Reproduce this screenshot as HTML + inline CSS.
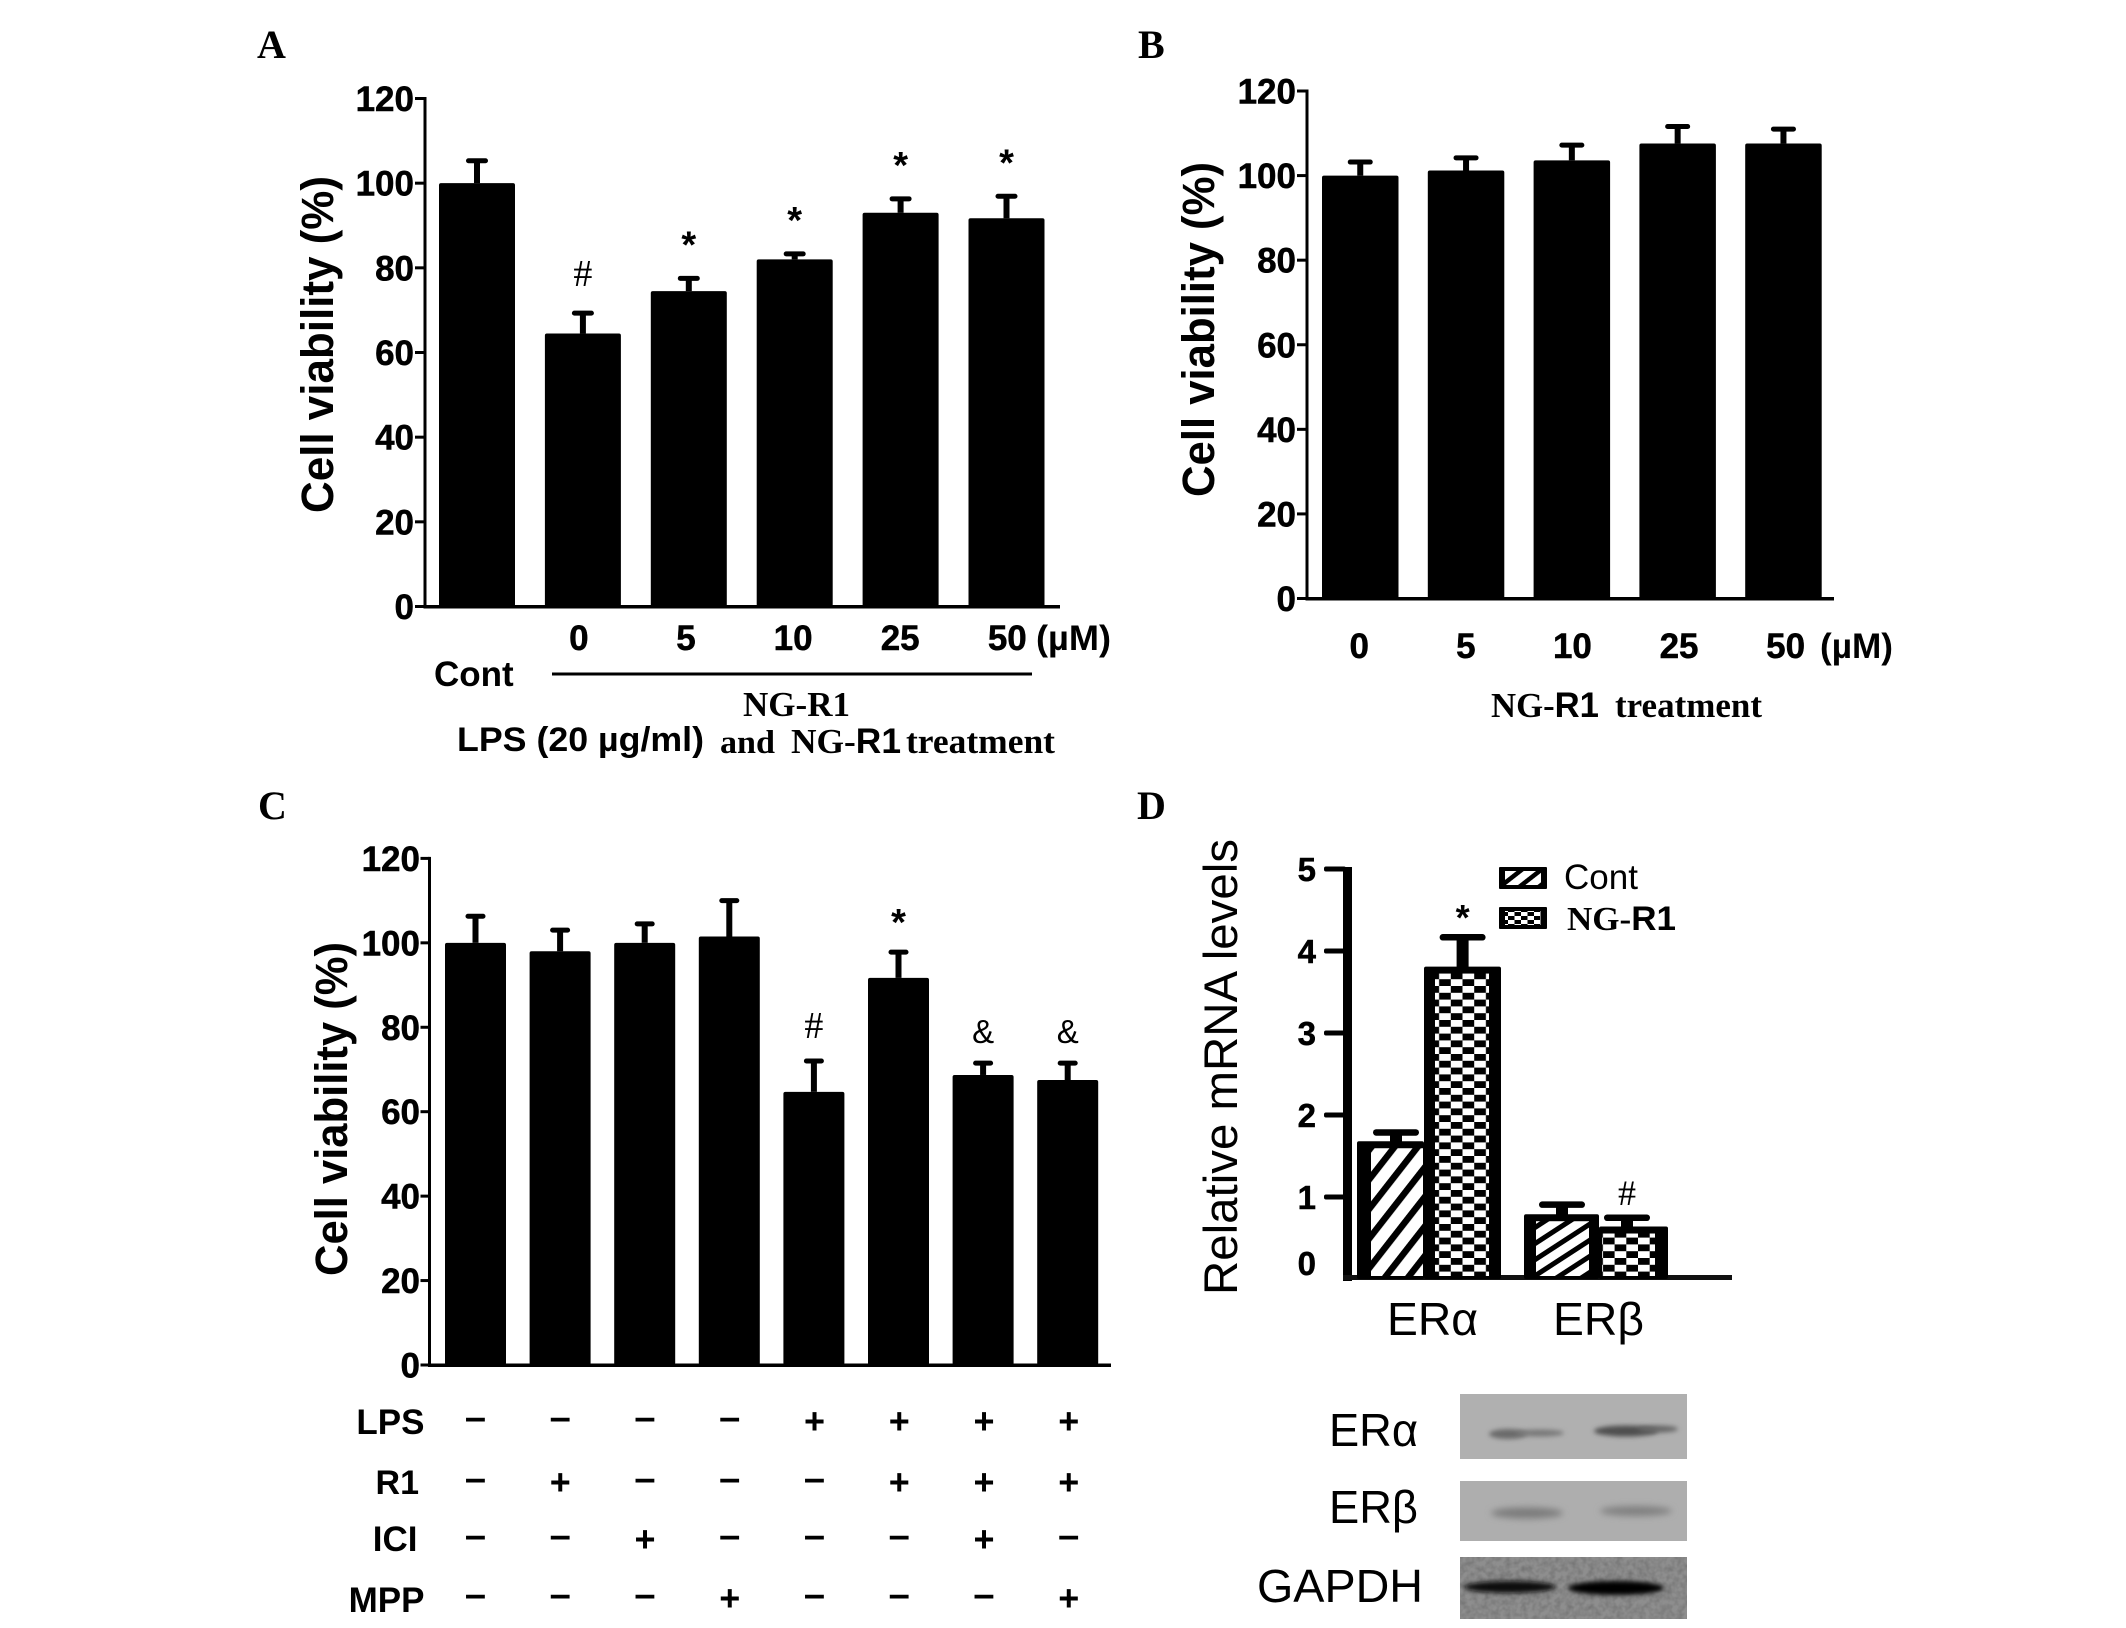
<!DOCTYPE html>
<html lang="en">
<head>
<meta charset="utf-8">
<title>Cell viability and ER expression figure</title>
<style>
html,body{margin:0;padding:0;background:#fff;}
svg{display:block;}
text{fill:#000;}
.sans{font-family:"Liberation Sans",sans-serif;}
.b{font-weight:bold;}
.serif{font-family:"Liberation Serif",serif;font-weight:bold;}
</style>
</head>
<body>
<svg id="fig" xmlns="http://www.w3.org/2000/svg" width="2126" height="1628" viewBox="0 0 2126 1628">
<defs>
<pattern id="hatchA" patternUnits="userSpaceOnUse" width="18.2" height="18.2" patternTransform="rotate(-52)">
<rect width="18.2" height="18.2" fill="#fff"/><rect width="18.2" height="6.5" fill="#000"/>
</pattern>
<pattern id="hatchB" patternUnits="userSpaceOnUse" width="13.5" height="13.5" patternTransform="rotate(-33)">
<rect width="13.5" height="13.5" fill="#fff"/><rect width="13.5" height="5" fill="#000"/>
</pattern>
<pattern id="hatchL" patternUnits="userSpaceOnUse" width="12" height="12" patternTransform="rotate(-38)">
<rect width="12" height="12" fill="#fff"/><rect width="12" height="4.5" fill="#000"/>
</pattern>
<pattern id="check" patternUnits="userSpaceOnUse" width="23.4" height="13.6">
<rect width="23.4" height="13.6" fill="#000"/>
<rect x="0" y="0" width="11.7" height="6.8" fill="#fff"/>
<rect x="11.7" y="6.8" width="11.7" height="6.8" fill="#fff"/>
</pattern>
<pattern id="checkL" patternUnits="userSpaceOnUse" width="13" height="8">
<rect width="13" height="8" fill="#000"/>
<rect x="0" y="0" width="6.5" height="4" fill="#fff"/>
<rect x="6.5" y="4" width="6.5" height="4" fill="#fff"/>
</pattern>
<filter id="blur5" x="-20%" y="-100%" width="140%" height="300%"><feGaussianBlur stdDeviation="3.5"/></filter>
<filter id="blur2" x="-20%" y="-100%" width="140%" height="300%"><feGaussianBlur stdDeviation="2.4"/></filter>
<filter id="noise" x="0" y="0" width="100%" height="100%"><feTurbulence type="fractalNoise" baseFrequency="0.18" numOctaves="2" seed="4"/><feColorMatrix type="matrix" values="0 0 0 0 0  0 0 0 0 0  0 0 0 0 0  0.9 0 0 0 -0.3"/></filter>
</defs>

<!-- panel letters -->
<text class="serif" x="257" y="58" font-size="40">A</text>
<text class="serif" x="1138" y="58" font-size="40">B</text>
<text class="serif" x="258" y="819" font-size="40">C</text>
<text class="serif" x="1137" y="819" font-size="40">D</text>

<!-- axis titles -->
<text class="sans b" transform="translate(333,513) rotate(-90)" font-size="45" textLength="337" lengthAdjust="spacingAndGlyphs">Cell viability (%)</text>
<text class="sans b" transform="translate(1214,497) rotate(-90)" font-size="45" textLength="335" lengthAdjust="spacingAndGlyphs">Cell viability (%)</text>
<text class="sans b" transform="translate(347,1276) rotate(-90)" font-size="45" textLength="334" lengthAdjust="spacingAndGlyphs">Cell viability (%)</text>
<text class="sans" transform="translate(1237,1295) rotate(-90)" font-size="47" textLength="456" lengthAdjust="spacingAndGlyphs">Relative mRNA levels</text>

<!-- panel A annotations -->
<text class="sans b" x="1036" y="650" font-size="35" textLength="75" lengthAdjust="spacingAndGlyphs">(µM)</text>
<text class="sans b" x="434" y="686" font-size="35">Cont</text>
<rect x="552" y="672.5" width="480" height="3" fill="#000"/>
<text class="serif" x="743" y="716" font-size="35" textLength="107" lengthAdjust="spacingAndGlyphs">NG-R1</text>
<text class="sans b" x="457" y="751" font-size="34.5" textLength="247" lengthAdjust="spacingAndGlyphs">LPS (20 µg/ml)</text>
<text class="serif" x="720" y="753" font-size="33" textLength="55" lengthAdjust="spacingAndGlyphs">and</text>
<text class="serif" x="791" y="753" font-size="35" textLength="110" lengthAdjust="spacingAndGlyphs">NG-<tspan class="sans b">R1</tspan></text>
<text class="serif" x="906" y="753" font-size="34.6" textLength="149" lengthAdjust="spacingAndGlyphs">treatment</text>

<!-- panel B annotations -->
<text class="sans b" x="1820" y="658" font-size="35" textLength="73" lengthAdjust="spacingAndGlyphs">(µM)</text>
<text class="serif" x="1491" y="717" font-size="35" textLength="108" lengthAdjust="spacingAndGlyphs">NG-<tspan class="sans b">R1</tspan></text>
<text class="serif" x="1615" y="717" font-size="34.6" textLength="147" lengthAdjust="spacingAndGlyphs">treatment</text>

<!-- panel C row labels -->
<text class="sans b" x="424.5" y="1434" font-size="35" text-anchor="end">LPS</text>
<text class="sans b" x="419" y="1494" font-size="34" text-anchor="end">R1</text>
<text class="sans b" x="417.5" y="1551" font-size="35" text-anchor="end">ICI</text>
<text class="sans b" x="424.5" y="1612" font-size="35" text-anchor="end">MPP</text>

<!-- panel D legend -->
<g>
<rect x="1499" y="867" width="48" height="22" rx="1" fill="#000"/>
<rect x="1505" y="871" width="36" height="14" fill="url(#hatchL)"/>
<text class="sans" x="1564" y="889" font-size="35">Cont</text>
<rect x="1499" y="907" width="48" height="22" rx="1" fill="#000"/>
<rect x="1505" y="911" width="36" height="14" fill="url(#checkL)"/>
<text class="serif" x="1567" y="930" font-size="34" textLength="109" lengthAdjust="spacingAndGlyphs">NG-<tspan class="sans b">R1</tspan></text>
</g>

<!-- panel D western blots -->
<g>
<text class="sans" x="1329" y="1446" font-size="46" textLength="89" lengthAdjust="spacingAndGlyphs">ERα</text>
<text class="sans" x="1329" y="1523" font-size="46" textLength="89" lengthAdjust="spacingAndGlyphs">ERβ</text>
<text class="sans" x="1257" y="1602" font-size="46" textLength="166" lengthAdjust="spacingAndGlyphs">GAPDH</text>

<rect x="1460" y="1394" width="227" height="65" fill="#b0b0b0"/>
<ellipse cx="1508" cy="1434" rx="19" ry="5" fill="#6a6a6a" filter="url(#blur2)"/>
<ellipse cx="1540" cy="1433" rx="24" ry="3.5" fill="#787878" filter="url(#blur2)"/>
<ellipse cx="1626" cy="1431" rx="32" ry="5.5" fill="#505050" filter="url(#blur2)"/>
<ellipse cx="1658" cy="1429" rx="20" ry="3.5" fill="#666" filter="url(#blur2)"/>

<rect x="1460" y="1481" width="227" height="60" fill="#aeaeae"/>
<ellipse cx="1527" cy="1513" rx="36" ry="5.5" fill="#7c7c7c" filter="url(#blur5)"/>
<ellipse cx="1636" cy="1511" rx="36" ry="5" fill="#808080" filter="url(#blur5)"/>

<rect x="1460" y="1557" width="227" height="62" fill="#8e8e8e"/>
<rect x="1460" y="1557" width="227" height="62" filter="url(#noise)" opacity=".35"/>
<ellipse cx="1510" cy="1587" rx="46" ry="6" fill="#0c0c0c" filter="url(#blur2)"/>
<ellipse cx="1616" cy="1588" rx="48" ry="7" fill="#050505" filter="url(#blur2)"/>
</g>

<g id="plots"></g>
</svg>

<script>
// Panel A data
const aTickValues = [0, 20, 40, 60, 80, 100, 120];
const aCategories = ['', '0', '5', '10', '25', '50'];
const aValues = [100, 64.5, 74.5, 82, 93, 91.7];
const aErrors = [5.3, 4.8, 3, 1.3, 3.3, 5.2];
const aMarks = ['', '#', '*', '*', '*', '*'];

// Panel B data
const bTickValues = [0, 20, 40, 60, 80, 100, 120];
const bCategories = ['0', '5', '10', '25', '50'];
const bValues = [100, 101.2, 103.6, 107.6, 107.6];
const bErrors = [3.2, 3, 3.6, 4, 3.4];
const bMarks = ['', '', '', '', ''];

// Panel C data
const cTickValues = [0, 20, 40, 60, 80, 100, 120];
const cCategories = ['', '', '', '', '', '', '', ''];
const cValues = [100, 98, 100, 101.5, 64.7, 91.7, 68.7, 67.5];
const cErrors = [6.3, 5, 4.5, 8.5, 7.3, 6.1, 2.8, 4];
const cMarks = ['', '', '', '', '#', '*', '&', '&'];
const cRowLps = ['-', '-', '-', '-', '+', '+', '+', '+'];
const cRowR1 = ['-', '+', '-', '-', '-', '+', '+', '+'];
const cRowIci = ['-', '-', '+', '-', '-', '-', '+', '-'];
const cRowMpp = ['-', '-', '-', '+', '-', '-', '-', '+'];

// Panel D data
const dTickValues = [0, 1, 2, 3, 4, 5];
const dGroups = ['ERα', 'ERβ'];
const dContValues = [1.68, 0.79];
const dContErrors = [0.11, 0.12];
const dNgValues = [3.81, 0.64];
const dNgErrors = [0.36, 0.11];
const dContMarks = ['', ''];
const dNgMarks = ['*', '#'];

const NS = 'http://www.w3.org/2000/svg';
const plots = document.getElementById('plots');

function mk(tag, attrs, parent) {
  const el = document.createElementNS(NS, tag);
  for (const k in attrs) el.setAttribute(k, attrs[k]);
  (parent || plots).appendChild(el);
  return el;
}

function markText(ch, cx, cyCenter, prefix, i, scale) {
  if (!ch) return;
  const s = scale || 1;
  const font = ch === '#' ? 'Liberation Serif' : 'Liberation Sans';
  const size = (ch === '&' ? 33 : 38) * s;
  const off = (ch === '*' ? 18 : ch === '#' ? 12 : 15) * s;
  const t = mk('text', {x: cx, y: cyCenter + off, 'font-size': size, 'text-anchor': 'middle', 'font-family': font + ',sans-serif', 'font-weight': ch === '*' ? 'bold' : 'normal'});
  
  
  t.textContent = ch;
}

function drawBarPanel(p) {
  const y = v => p.y0 - (v / p.yMax) * (p.y0 - p.yTop);
  const x = i => p.xStart + i * p.step;

  const yAxis = mk('rect', {x: p.axisX - 1.5, y: p.yTop - 1.5, width: 3, height: p.y0 - p.yTop + 3, fill: '#000'});
  
  

  p.ticks.forEach(v => {
    const tk = mk('rect', {x: p.axisX - p.tickLen, y: y(v) - 1.5, width: p.tickLen, height: 3, fill: '#000'});
    
    
    const lb = mk('text', {x: p.labelRight, y: y(v) + 12.5, 'font-size': 35, 'text-anchor': 'end', 'font-family': 'Liberation Sans,sans-serif', 'font-weight': 'bold', stroke: '#000', 'stroke-width': 0.5});
    
    
    lb.textContent = v;
  });

  p.values.forEach((v, i) => {
    const cx = x(i) + p.barW / 2;
    const bar = mk('rect', {x: x(i), y: y(v), width: p.barW, height: p.y0 - y(v), rx: 2, fill: '#000'});
    
    
    const top = y(v + p.errors[i]);
    const stem = mk('rect', {x: cx - 3, y: top, width: 6, height: y(v) - top, fill: '#000'});
    
    
    const cap = mk('rect', {x: cx - p.capW / 2, y: top - 2.5, width: p.capW, height: 5, rx: 2.5, fill: '#000'});
    
    
    markText(p.marks[i], cx + p.markDx, top - p.markGap, p.id, i);
    if (p.categories[i]) {
      const lb = mk('text', {x: cx + p.labelDx + p.labelSlope * i, y: p.xLabelY, 'font-size': 35, 'text-anchor': 'middle', 'font-family': 'Liberation Sans,sans-serif', 'font-weight': 'bold', stroke: '#000', 'stroke-width': 0.5});
      
      
      lb.textContent = p.categories[i];
    }
  });

  const xAxis = mk('rect', {x: p.axisX - 1.5, y: p.y0 - 1.5, width: p.xEnd - p.axisX + 1.5, height: 3.5, fill: '#000'});
  
  
}

drawBarPanel({id: 'panel-a', ticks: aTickValues, categories: aCategories, values: aValues, errors: aErrors, marks: aMarks,
  yMax: 120, y0: 606.5, yTop: 98.5, axisX: 425, xEnd: 1060, tickLen: 10, labelRight: 414,
  xStart: 439, step: 105.9, barW: 76, capW: 22, markGap: 39, markDx: 0, labelDx: -5.2, labelSlope: 1.2, xLabelY: 650});

drawBarPanel({id: 'panel-b', ticks: bTickValues, categories: bCategories, values: bValues, errors: bErrors, marks: bMarks,
  yMax: 120, y0: 598.5, yTop: 91, axisX: 1307, xEnd: 1834, tickLen: 10, labelRight: 1296,
  xStart: 1322, step: 105.8, barW: 76.5, capW: 25, markGap: 39, markDx: 0, labelDx: -1, labelSlope: 0.8, xLabelY: 658});

drawBarPanel({id: 'panel-c', ticks: cTickValues, categories: cCategories, values: cValues, errors: cErrors, marks: cMarks,
  yMax: 120, y0: 1365, yTop: 858.4, axisX: 429.5, xEnd: 1111, tickLen: 9, labelRight: 420,
  xStart: 445, step: 84.6, barW: 61, capW: 20, markGap: 35, markDx: 0, labelDx: 0, labelSlope: 0, xLabelY: 1400});

// Panel C treatment matrix
const cRows = [cRowLps, cRowR1, cRowIci, cRowMpp];
const cRowCentres = [1421, 1482, 1539, 1598];
cRows.forEach((row, r) => {
  row.forEach((sym, i) => {
    const cx = 445 + i * 84.75 + 30.5;
    const isPlus = sym === '+';
    const t = mk('text', {x: cx, y: cRowCentres[r] + (isPlus ? 12.5 : 9), 'font-size': isPlus ? 36 : 38, 'text-anchor': 'middle', 'font-family': 'Liberation Sans,sans-serif', 'font-weight': 'bold'});
    
    
    t.textContent = isPlus ? '+' : '–';
  });
});

// Panel D grouped bars
(function () {
  const y0 = 1279, unit = 82;
  const y = v => y0 - v * unit;
  const axisX = 1347.5;

  const yAxis = mk('rect', {x: axisX - 4.5, y: y(5) - 2, width: 9, height: y0 - y(5) + 4, fill: '#000'});
  
  

  dTickValues.forEach(v => {
    if (v > 0) {
      const tk = mk('rect', {x: 1324, y: y(v) - 2.5, width: 22, height: 5, rx: 2, fill: '#000'});
      
      
    }
    const lb = mk('text', {x: 1316, y: y(v) + (v === 0 ? -4 : 12), 'font-size': 33, 'text-anchor': 'end', 'font-family': 'Liberation Sans,sans-serif', 'font-weight': 'bold', stroke: '#000', 'stroke-width': 0.5});
    
    
    lb.textContent = v;
  });

  const xAxis = mk('rect', {x: 1343, y: y0 - 4, width: 389, height: 5, fill: '#111'});
  
  

  const hatchIds = ['hatchA', 'hatchB'];

  function series(name, values, errors, marks, layout, fillFn) {
    values.forEach((v, i) => {
      const g = layout(i);
      const out = mk('rect', {x: g.l, y: y(v), width: g.w, height: y0 - y(v), rx: 2, fill: '#000'});
      
      
      const inn = mk('rect', {x: g.l + g.inL, y: y(v) + 7, width: g.w - g.inL - g.inR, height: y0 - y(v) - 10, fill: fillFn(i)});
      
      
      const top = y(v + errors[i]);
      const stem = mk('rect', {x: g.cx - 6, y: top, width: 12, height: y(v) - top + 1, fill: '#000'});
      
      
      const cap = mk('rect', {x: g.cx - 23, y: top - 3, width: 46, height: 6.5, rx: 3.2, fill: '#000'});
      
      
      markText(marks[i], g.cx, top - 24, 'panel-d-' + name, i, 0.95);
    });
  }

  series('cont', dContValues, dContErrors, dContMarks,
    i => i === 0 ? {l: 1357, w: 67, inL: 14, inR: 1, cx: 1396} : {l: 1524, w: 75, inL: 12, inR: 10, cx: 1562},
    i => 'url(#' + hatchIds[i] + ')');
  series('ng-r1', dNgValues, dNgErrors, dNgMarks,
    i => i === 0 ? {l: 1424, w: 77, inL: 11, inR: 12, cx: 1462.6} : {l: 1599, w: 69, inL: 3, inR: 13, cx: 1627},
    () => 'url(#check)');

  dGroups.forEach((g, i) => {
    const lb = mk('text', {x: 1387 + i * 166, y: 1335, 'font-size': 46, 'font-family': 'Liberation Sans,sans-serif', textLength: 91, lengthAdjust: 'spacingAndGlyphs'});
    
    
    lb.textContent = g;
  });
})();
</script>
</body>
</html>
